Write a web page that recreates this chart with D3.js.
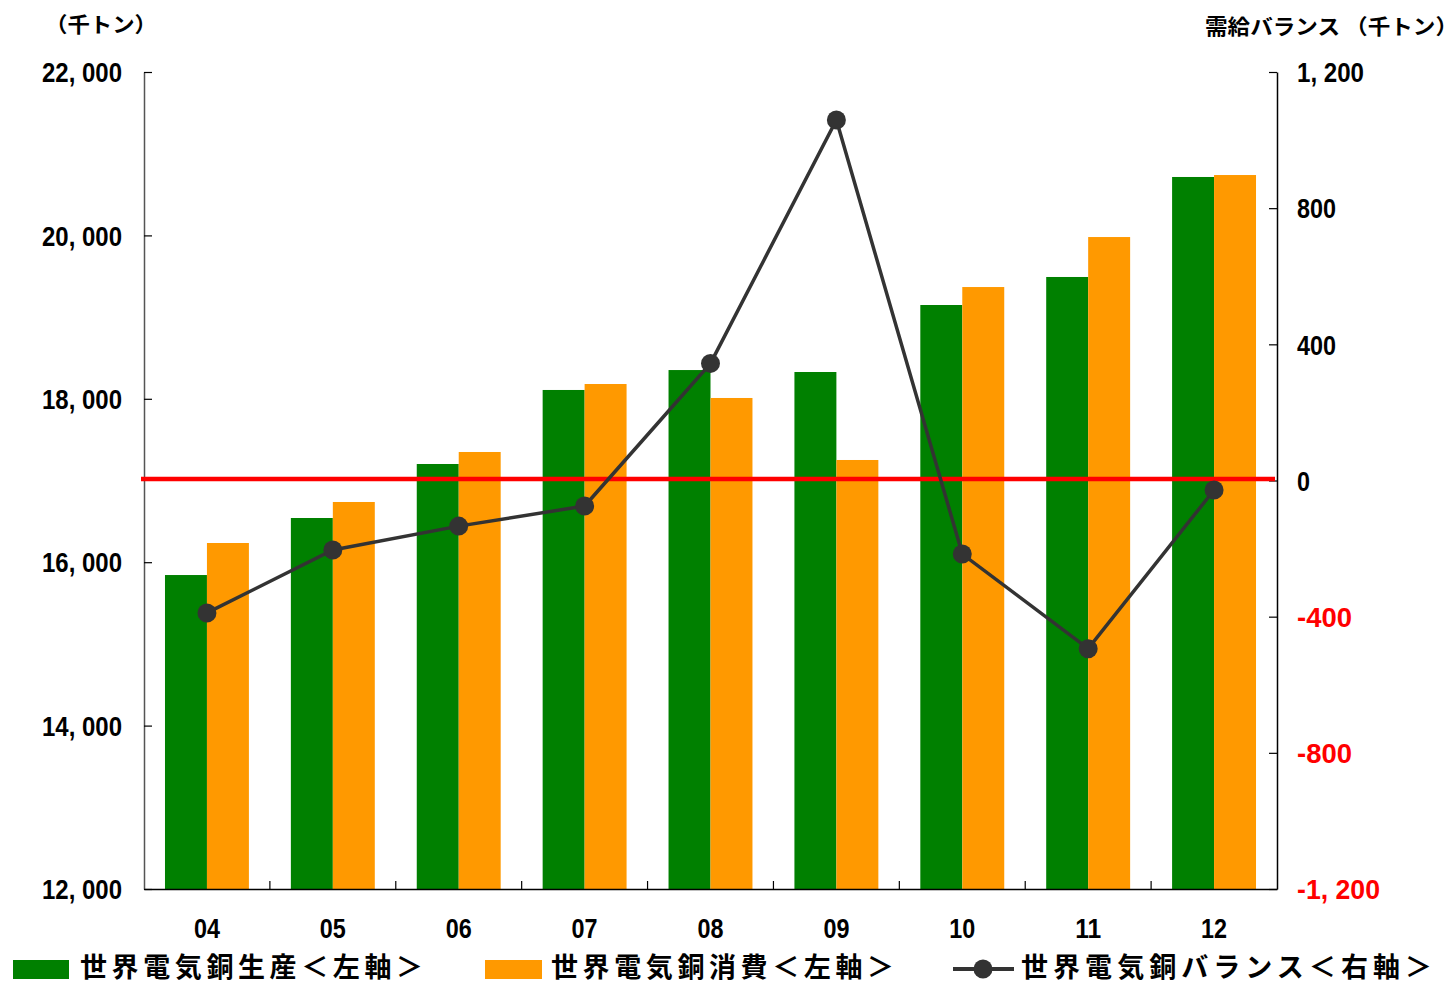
<!DOCTYPE html>
<html><head><meta charset="utf-8">
<script src="https://cdn.jsdelivr.net/npm/d3@7"></script>
<style>
html,body{margin:0;padding:0;background:#fff;}
svg{display:block;}
</style></head>
<body>
<svg id="chart" width="1449" height="984"></svg>
<script>
const years = ["04","05","06","07","08","09","10","11","12"];
const production = [15843,16541,17202,18108,18352,18328,19148,19491,20715];
const consumption = [16235,16737,17349,18181,18010,17251,19368,19980,20739];
const balance = [-389,-204,-134,-75,344,1059,-216,-494,-28];
const leftTicks = [12000,14000,16000,18000,20000,22000];
const rightTicks = [-1200,-800,-400,0,400,800,1200];
const seriesNames = ["世界電気銅生産＜左軸＞","世界電気銅消費＜左軸＞","世界電気銅バランス＜右軸＞"];
const leftUnit = "（千トン）";
const rightUnit = "需給バランス （千トン）";

const svg = d3.select("#chart");
const X0 = 144, X1 = 1277, Y0 = 72, Y1 = 889;
const CJK = "'Noto Sans CJK JP', sans-serif";
const NUM = "'Liberation Sans', Arial, sans-serif";

const x = d3.scaleBand().domain(years).range([X0, X1]).paddingInner(0).paddingOuter(0);
const xs = d3.scaleBand().domain(["p","c"]).range([0, x.bandwidth()]).paddingInner(0).paddingOuter(0.5);
const yL = d3.scaleLinear().domain([12000, 22000]).range([Y1, Y0]);
const yR = d3.scaleLinear().domain([-1200, 1200]).range([Y1, Y0]);

function numWidth(s){
  let w = 0;
  for (const c of s){
    if (/[0-9]/.test(c)) w += 13;
    else if (c === ",") w += 8;
    else if (c === " ") w += 7;
    else if (c === "-") w += 16;
  }
  return w;
}
function fmt(d){ return (d < 0 ? "-" : "") + d3.format(",")(Math.abs(d)).replace(",", ", "); }

// bars
const g = svg.append("g");
g.selectAll("rect.p").data(years).join("rect")
  .attr("x", (d) => x(d) + xs("p"))
  .attr("width", xs.bandwidth())
  .attr("y", (d,i) => yL(production[i]))
  .attr("height", (d,i) => Y1 - yL(production[i]))
  .attr("fill", "#008000");
g.selectAll("rect.c").data(years).join("rect")
  .attr("x", (d) => x(d) + xs("c"))
  .attr("width", xs.bandwidth())
  .attr("y", (d,i) => yL(consumption[i]))
  .attr("height", (d,i) => Y1 - yL(consumption[i]))
  .attr("fill", "#ff9900");

// left axis
const axL = svg.append("g").attr("transform", `translate(${X0},0)`)
  .call(d3.axisLeft(yL).tickValues(leftTicks).tickSizeInner(-8).tickSizeOuter(0).tickPadding(22).tickFormat(fmt));
axL.select(".domain").attr("stroke", "#555").attr("stroke-width", 1.5);
axL.selectAll(".tick line").attr("stroke", "#000").attr("stroke-width", 1.2);
axL.selectAll(".tick text")
  .attr("font-family", NUM).attr("font-weight", "bold").attr("font-size", 27).attr("fill", "#000")
  .attr("dy", "0.36em")
  .each(function(){ const t = d3.select(this); t.attr("textLength", numWidth(t.text())).attr("lengthAdjust", "spacingAndGlyphs"); });

// right axis
const axR = svg.append("g").attr("transform", `translate(${X1},0)`)
  .call(d3.axisRight(yR).tickValues(rightTicks).tickSizeInner(-8).tickSizeOuter(0).tickPadding(20).tickFormat(fmt));
axR.select(".domain").attr("stroke", "#000").attr("stroke-width", 1.5);
axR.selectAll(".tick line").attr("stroke", "#000").attr("stroke-width", 1.2);
axR.selectAll(".tick text")
  .attr("font-family", NUM).attr("font-weight", "bold").attr("font-size", 27)
  .attr("fill", (d) => d < 0 ? "#ff0000" : "#000")
  .attr("dy", "0.36em")
  .each(function(){ const t = d3.select(this); t.attr("textLength", numWidth(t.text())).attr("lengthAdjust", "spacingAndGlyphs"); });

// bottom axis
const axB = svg.append("g").attr("transform", `translate(0,${Y1})`)
  .call(d3.axisBottom(x).tickSize(0).tickPadding(30));
axB.select(".domain").attr("stroke", "#000").attr("stroke-width", 1.5);
axB.selectAll(".tick text")
  .attr("font-family", NUM).attr("font-weight", "bold").attr("font-size", 27).attr("fill", "#000")
  .each(function(){ const t = d3.select(this); t.attr("textLength", numWidth(t.text())).attr("lengthAdjust", "spacingAndGlyphs"); });
svg.append("g").selectAll("line").data(years.slice(1)).join("line")
  .attr("x1", (d) => x(d)).attr("x2", (d) => x(d))
  .attr("y1", Y1).attr("y2", Y1 - 8)
  .attr("stroke", "#000").attr("stroke-width", 1.2);

// zero reference line (right axis)
svg.append("line")
  .attr("x1", X0 - 3).attr("x2", X1 - 2)
  .attr("y1", yR(0) - 1.5).attr("y2", yR(0) - 1.5)
  .attr("stroke", "#ff0000").attr("stroke-width", 4.5);

// balance line
const line = d3.line().x((d,i) => x(years[i]) + x.bandwidth()/2).y((d) => yR(d));
svg.append("path").datum(balance).attr("d", line)
  .attr("fill", "none").attr("stroke", "#333333").attr("stroke-width", 3.5);
svg.append("g").selectAll("circle").data(balance).join("circle")
  .attr("cx", (d,i) => x(years[i]) + x.bandwidth()/2)
  .attr("cy", (d) => yR(d))
  .attr("r", 9.5).attr("fill", "#333333");

// unit labels
svg.append("text").text(leftUnit)
  .attr("x", 45).attr("y", 32)
  .attr("font-family", CJK).attr("font-weight", "bold").attr("font-size", 21)
  .attr("textLength", 112).attr("lengthAdjust", "spacingAndGlyphs");
svg.append("text").text(rightUnit)
  .attr("x", 1205).attr("y", 34)
  .attr("font-family", CJK).attr("font-weight", "bold").attr("font-size", 21)
  .attr("textLength", 253).attr("lengthAdjust", "spacingAndGlyphs");

// legend
const lg = svg.append("g");
lg.append("rect").attr("x", 13).attr("y", 960).attr("width", 56).attr("height", 19).attr("fill", "#008000");
lg.append("text").text(seriesNames[0]).attr("x", 80).attr("y", 976.5)
  .attr("font-family", CJK).attr("font-weight", "bold").attr("font-size", 27)
  .attr("textLength", 343).attr("lengthAdjust", "spacing");
lg.append("rect").attr("x", 485).attr("y", 960).attr("width", 57).attr("height", 19).attr("fill", "#ff9900");
lg.append("text").text(seriesNames[1]).attr("x", 551).attr("y", 976.5)
  .attr("font-family", CJK).attr("font-weight", "bold").attr("font-size", 27)
  .attr("textLength", 343).attr("lengthAdjust", "spacing");
lg.append("line").attr("x1", 953).attr("x2", 1014).attr("y1", 969).attr("y2", 969)
  .attr("stroke", "#333333").attr("stroke-width", 4);
lg.append("circle").attr("cx", 983).attr("cy", 969).attr("r", 9.5).attr("fill", "#333333");
lg.append("text").text(seriesNames[2]).attr("x", 1021).attr("y", 976.5)
  .attr("font-family", CJK).attr("font-weight", "bold").attr("font-size", 27)
  .attr("textLength", 411).attr("lengthAdjust", "spacing");
</script>
</body></html>
